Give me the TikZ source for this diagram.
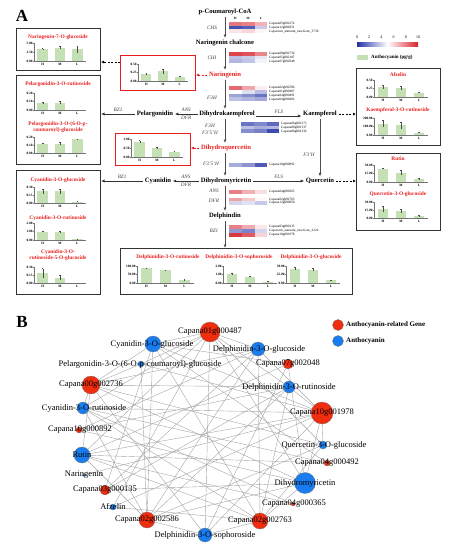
\documentclass[tikz,border=0pt]{standalone}
\usepackage{fontspec}
\setmainfont{Liberation Serif}
\usetikzlibrary{arrows.meta,backgrounds}
\definecolor{hb}{RGB}{35,50,165}
\definecolor{hr}{RGB}{215,35,45}
\definecolor{tred}{RGB}{232,30,30}
\definecolor{barg}{RGB}{197,224,180}
\definecolor{nred}{RGB}{240,45,15}
\definecolor{nblue}{RGB}{25,125,240}
\definecolor{edgec}{RGB}{165,165,165}
\tikzset{
  cmp/.style={font=\fontsize{6.6}{7}\selectfont\bfseries, inner sep=1.5pt},
  enz/.style={font=\fontsize{5.2}{6}\selectfont\itshape, text=black!75, inner sep=1pt},
  gene/.style={font=\fontsize{3.4}{4}\selectfont, anchor=west, inner sep=0pt},
  ttl/.style={font=\fontsize{5.4}{6}\selectfont\bfseries, text=tred, inner sep=0pt},
  tick/.style={font=\fontsize{3.4}{4}\selectfont\bfseries, inner sep=0.5pt},
  axc/.style={draw=black!55, line width=0.3pt},
  errc/.style={draw=black!70, line width=0.3pt},
  box/.style={draw=black!80, line width=0.8pt},
  rbox/.style={draw=tred, line width=0.8pt},
  arr/.style={-{Latex[length=3.5pt,width=3pt]}, line width=0.9pt, draw=black!70},
  harr/.style={-{Latex[length=3.5pt,width=3pt]}, line width=0.7pt, draw=black!80},
  darr/.style={-{Latex[length=3pt,width=3pt]}, dash pattern=on 2pt off 1.5pt, line width=0.7pt},
  gnode/.style={circle, draw=black!55, line width=0.3pt, fill=nred, inner sep=0pt},
  bnode/.style={circle, draw=black!55, line width=0.3pt, fill=nblue, inner sep=0pt},
  net/.style={font=\fontsize{8.5}{9}\selectfont, inner sep=0pt},
  edge/.style={draw=edgec, line width=0.4pt},
  leg/.style={font=\fontsize{7}{8}\selectfont\bfseries, anchor=west, inner sep=0pt}
}
\newcommand\hrow[7]{%
  \fill[#4] (#1,#2) rectangle ++(12.8,#3);
  \fill[#5] ({#1+12.8},#2) rectangle ++(12.8,#3);
  \fill[#6] ({#1+25.6},#2) rectangle ++(12.8,#3);
  \node[gene] at ({#1+40},{#2+#3/2}) {#7};}
\newcommand\bchart[7]{%
\begin{scope}[shift={(#1,#2)}]
  \foreach \v/\e [count=\i] in {#7}{%
    \pgfmathsetmacro\cx{(2*\i-1)*#3/6}%
    \pgfmathsetmacro\bw{0.3*#3/3}%
    \fill[barg] ({\cx-\bw},0) rectangle ({\cx+\bw},{-\v*#4});
    \draw[errc] (\cx,{-(\v-\e)*#4}) -- (\cx,{-(\v+\e)*#4});
    \draw[errc] ({\cx-0.8},{-(\v+\e)*#4}) -- ({\cx+0.8},{-(\v+\e)*#4});
  }
  \draw[axc] (0,{-#4}) -- (0,0) -- (#3,0);
  \foreach \t/\l in {0/0.00,0.5/#6,1/#5}{%
    \draw[axc] (-0.8,{-\t*#4}) -- (0,{-\t*#4});
    \node[tick,anchor=east] at (-0.8,{-\t*#4}) {\l};}
  \node[tick] at ({#3/6},3.5) {H};
  \node[tick] at ({#3/2},3.5) {M};
  \node[tick] at ({5*#3/6},3.5) {L};
\end{scope}}
\begin{document}
\begin{tikzpicture}[x=1pt,y=-1pt]
\useasboundingbox (0,0) rectangle (455,550);

% ---------------- Panel A ----------------
\node[font=\fontsize{17}{18}\selectfont\bfseries] (labA) at (22,16) {A};

\node[cmp] (pcc) at (225,12) {p-Coumaroyl-CoA};
\node[cmp] (nch) at (225,43) {Naringenin chalcone};
\node[cmp,text=tred] (nar) at (225,75) {Naringenin};
\node[cmp] (dhk) at (227,114) {Dihydrokaempferol};
\node[cmp,text=tred] (dhq) at (226,148) {Dihydroquercetin};
\node[cmp] (dhm) at (226,181) {Dihydromyricetin};
\node[cmp] (del) at (225,216) {Delphindin};
\node[cmp] (pel) at (155,114) {Pelargonidin};
\node[cmp] (cya) at (158,181) {Cyanidin};
\node[cmp] (kae) at (320,114) {Kaempferol};
\node[cmp] (que) at (320,181) {Quercetin};

\coordinate (c1) at (225,17);   \coordinate (c1b) at (225,38);
\coordinate (c2) at (225,48);   \coordinate (c2b) at (225,70);
\coordinate (c3) at (225,80);   \coordinate (c3b) at (225,109);
\coordinate (c4) at (225,119);  \coordinate (c4b) at (225,143);
\coordinate (c5) at (225,153);  \coordinate (c5b) at (225,176);
\coordinate (c6) at (225,186);  \coordinate (c6b) at (225,211);
\coordinate (c7) at (225,221);  \coordinate (bbtop) at (225,248);
\coordinate (pelbox) at (101,114);
\coordinate (cyabox) at (101,181);
\coordinate (afzbox) at (356,114);
\coordinate (rutbox) at (356,181);
\coordinate (narbox) at (196,75);
\coordinate (dhqbox) at (191,148);
\coordinate (nbL) at (120,62);
\coordinate (n7R) at (101,62);

\draw[arr] (c1) -- (c1b);
\draw[arr] (c2) -- (c2b);
\draw[arr] (c3) -- (c3b);
\draw[arr] (c4) -- (c4b);
\draw[arr] (c5) -- (c5b);
\draw[arr] (c6) -- (c6b);
\draw[arr] (c7) -- (bbtop);
\draw[arr] (kae) -- (que);

\draw[harr] (dhk) -- node[enz,above=1pt] (e1) {ANS} node[enz,below=1pt] (e2) {DFR} (pel);
\draw[harr] (pel) -- node[enz,above=1pt] (e3) {BZ1} (pelbox);
\draw[harr] (dhm) -- node[enz,above=1pt] (e4) {ANS} node[enz,below=1pt] (e5) {DFR} (cya);
\draw[harr] (cya) -- node[enz,above=1pt] (e6) {BZ1} (cyabox);
\draw[harr] (dhk.east) ++(0,2) coordinate (dk2) -- node[enz,above=1pt] (e7) {FLS} (kae.west |- dk2);
\draw[harr] (dhm) -- node[enz,above=1pt] (e8) {FLS} (que);
\draw[darr] (kae) -- (afzbox);
\draw[darr] (que) -- (rutbox);
\draw[darr,draw=tred] (nar) -- (narbox);
\draw[darr,draw=tred] (dhq) -- (dhqbox);
\draw[darr] (nbL) -- (n7R);

\node[enz] (z1) at (212,28) {CHS};
\node[enz] (z2) at (212,58) {CHI};
\node[enz] (z3) at (212,98) {F3H};
\node[enz] (z4) at (210,126) {F3H};
\node[enz] (z5) at (210,133) {F3'5'H};
\node[enz] (z6) at (211,164) {F3'5'H};
\node[enz] (z7) at (214,191) {ANS};
\node[enz] (z8) at (214,201) {DFR};
\node[enz] (z9) at (214,231) {BZ1};
\node[enz] (z10) at (309,155) {F3'H};

\node[tick,font=\fontsize{3.2}{4}\selectfont\bfseries] (hH) at (235.4,18.6) {H};
\node[tick,font=\fontsize{3.2}{4}\selectfont\bfseries] (hM) at (248.2,18.6) {M};
\node[tick,font=\fontsize{3.2}{4}\selectfont\bfseries] (hL) at (261,18.6) {L};
\hrow{229}{22}{3.7}{hr!62!white}{hr!58!white}{hr!35!white}{Capana05g002274}
\hrow{229}{25.7}{3.7}{hb!85!white}{hb!78!white}{hb!25!white}{Capana12g000351}
\hrow{229}{29.4}{3.7}{hr!12!white}{hr!18!white}{hr!4!white}{Capsicum\_annuum\_newGene\_3736}

\hrow{229}{52}{3.7}{hr!85!white}{hr!78!white}{hr!55!white}{Capana08g002736}
\hrow{229}{55.7}{3.7}{hb!30!white}{hb!25!white}{hb!12!white}{Capana05g002187}
\hrow{229}{59.4}{3.7}{hb!35!white}{hb!28!white}{hb!6!white}{Capana07g002048}

\hrow{229}{86}{3.8}{hr!68!white}{hr!40!white}{hr!8!white}{Capana02g002586}
\hrow{229}{89.8}{3.8}{white}{hb!15!white}{hb!32!white}{Capana01g000487}
\hrow{229}{93.6}{3.8}{hb!45!white}{hb!55!white}{hb!68!white}{Capana04g000491}
\hrow{229}{97.4}{3.8}{hb!30!white}{hb!36!white}{hb!42!white}{Capana04g000492}

\hrow{241}{122}{3.7}{hb!68!white}{hb!58!white}{hb!72!white}{Capana06g002173}
\hrow{241}{125.7}{3.7}{hb!30!white}{hb!40!white}{hb!35!white}{Capana08g001337}
\hrow{241}{129.4}{3.7}{hb!55!white}{hb!62!white}{hb!88!white}{Capana08g001336}

\hrow{229}{162.5}{4.5}{hb!40!white}{hb!52!white}{hb!80!white}{Capana10g000892}

\hrow{229}{189.5}{4.5}{hr!58!white}{hr!35!white}{hr!15!white}{Capana04g000365}

\hrow{229}{197.5}{3.8}{hr!42!white}{hr!25!white}{hr!3!white}{Capana02g002763}
\hrow{229}{201.3}{3.8}{hb!20!white}{hb!14!white}{hb!26!white}{Capana12g000050}

\hrow{229}{225}{4}{hr!58!white}{hr!38!white}{hr!10!white}{Capana03g000135}
\hrow{229}{229}{4}{hb!50!white}{hb!60!white}{hb!20!white}{Capsicum\_annuum\_newGene\_2224}
\hrow{229}{233}{4}{hr!90!white}{hr!75!white}{hr!20!white}{Capana10g001978}

\shade[left color=hb, right color=hr, middle color=white] (357,42) rectangle (418,46.5);
\foreach \k/\t in {0/0,1/2,2/4,3/6,4/8,5/10}
  \node[font=\fontsize{4}{5}\selectfont, inner sep=0pt] at ({357+\k*12.2},37.5) {\t};
\fill[barg] (357,54.5) rectangle (368,59.5);
\node[font=\fontsize{5}{6}\selectfont\bfseries, anchor=west, inner sep=0pt] (legA) at (371,57) {Anthocyanin (μg/g)};

\draw[box] (16,28) rectangle (100,70);
\draw[rbox] (120,55) rectangle (195,90);
\draw[box] (16,75) rectangle (100,164);
\draw[rbox] (115,133) rectangle (190,165);
\draw[box] (16,170) rectangle (100,294);
\draw[box] (356,68) rectangle (440,145);
\draw[box] (356,153) rectangle (440,230);
\draw[box] (120,248) rectangle (352,294);

\node[ttl] (t1) at (58,37) {Naringenin-7-O-glucoside};
\bchart{34}{61}{52}{18}{5.00}{2.50}{0.66/0.03,0.74/0.08,0.64/0.2}
\bchart{138}{81}{50}{17}{0.50}{0.25}{0.4/0.05,0.56/0.13,0.26/0.05}
\node[ttl] (t2) at (58,84) {Pelargonidin-3-O-rutinoside};
\bchart{34}{110}{52}{17}{0.20}{0.10}{0.4/0.06,0.42/0.09,0/0}
\node[ttl] (t3) at (58,124) {Pelargonidin-3-O-(6-O-p-};
\node[ttl] (t3b) at (58,130.5) {coumaroyl)-glucoside};
\bchart{34}{153}{52}{16}{0.20}{0.10}{0.58/0.04,0.58/0.1,0.86/0.03}
\bchart{131}{157}{52}{18}{1.00}{0.50}{0.85/0.06,0.5/0.05,0.3/0.04}
\node[ttl] (t4) at (58,180) {Cyanidin-3-O-glucoside};
\bchart{34}{203}{52}{16}{0.30}{0.15}{0.72/0.15,0.72/0.15,0.08/0.02}
\node[ttl] (t5) at (58,218) {Cyanidin-3-O-rutinoside};
\bchart{34}{240}{52}{17}{2.00}{1.00}{0.5/0.05,0.46/0.04,0.05/0.02}
\node[ttl] (t6) at (58,252) {Cyanidin-3-O-};
\node[ttl] (t6b) at (58,258.5) {rutinoside-5-O-glucoside};
\bchart{34}{283}{52}{16}{0.30}{0.15}{0.6/0.3,0.33/0.15,0/0}
\node[ttl] (t7) at (398,75) {Afzelin};
\bchart{374}{97}{54}{17}{0.50}{0.25}{0.6/0.12,0.54/0.1,0.25/0.04}
\node[ttl] (t8) at (398,110) {Kaempferol-3-O-rutinoside};
\bchart{374}{135}{54}{17}{200.00}{100.00}{0.66/0.2,0.56/0.2,0.14/0.04}
\node[ttl] (t9) at (398,159) {Rutin};
\bchart{374}{182}{54}{17}{30.00}{15.00}{0.77/0.03,0.55/0.15,0.17/0.05}
\node[ttl] (t10) at (398,194) {Quercetin-3-O-glucoside};
\bchart{374}{218}{54}{16}{30.00}{15.00}{0.57/0.2,0.45/0.12,0.13/0.04}
\node[ttl] (t11) at (168,257) {Delphinidin-3-O-rutinoside};
\bchart{137}{283}{57}{17}{100.00}{50.00}{0.86/0.03,0.74/0.03,0.18/0.05}
\node[ttl] (t12) at (239,257) {Delphinidin-3-O-sophoroside};
\bchart{223}{283}{54}{17}{2.00}{1.00}{0.53/0.03,0.38/0.03,0.08/0.02}
\node[ttl] (t13) at (311,257) {Delphinidin-3-O-glucoside};
\bchart{286}{283}{54}{17}{50.00}{25.00}{0.84/0.1,0.77/0.08,0.15/0.03}

% ---------------- Panel B ----------------
\node[font=\fontsize{17}{18}\selectfont\bfseries] (labB) at (22,322) {B};
\node[gnode, minimum size=11] (lg1) at (338,325) {};
\node[leg] (lg1t) at (346,325) {Anthocyanin-related Gene};
\node[bnode, minimum size=11] (lg2) at (338,341) {};
\node[leg] (lg2t) at (346,341) {Anthocyanin};

\node[gnode, minimum size=20] (g1) at (210,332) {};
\node[gnode, minimum size=10] (g2) at (288,364) {};
\node[gnode, minimum size=18] (g3) at (91,385) {};
\node[gnode, minimum size=22] (g4) at (322,413) {};
\node[gnode, minimum size=6] (g5) at (79,430) {};
\node[gnode, minimum size=6] (g6) at (327,463) {};
\node[gnode, minimum size=10] (g7) at (105,490) {};
\node[gnode, minimum size=4] (g8) at (293,504) {};
\node[gnode, minimum size=16] (g9) at (147,520) {};
\node[gnode, minimum size=16] (g10) at (260,521) {};
\node[bnode, minimum size=16] (m1) at (153,344) {};
\node[bnode, minimum size=14] (m2) at (258,349) {};
\node[bnode, minimum size=6] (m3) at (141,364) {};
\node[bnode, minimum size=12] (m4) at (289,387) {};
\node[bnode, minimum size=12] (m5) at (83,408) {};
\node[bnode, minimum size=16] (m6) at (82,455) {};
\node[bnode, minimum size=8] (m7) at (323,445) {};
\node[bnode, minimum size=3] (m8) at (84,475) {};
\node[bnode, minimum size=21] (m9) at (305,483) {};
\node[bnode, minimum size=6] (m10) at (113,507) {};
\node[bnode, minimum size=14] (m11) at (205,535) {};

\node[net] (g1l) at (210,332) {Capana01g000487};
\node[net] (g2l) at (288,364) {Capana07g002048};
\node[net] (g3l) at (91,385) {Capana00g002736};
\node[net] (g4l) at (322,413) {Capana10g001978};
\node[net] (g5l) at (80,430) {Capana10g000892};
\node[net] (g6l) at (327,463) {Capana04g000492};
\node[net] (g7l) at (105,490) {Capana03g000135};
\node[net] (g8l) at (294,504) {Capana04g000365};
\node[net] (g9l) at (147,520) {Capana02g002586};
\node[net] (g10l) at (260,521) {Capana02g002763};
\node[net] (m1l) at (152,344) {Cyanidin-3-O-glucoside};
\node[net] (m2l) at (259,349) {Delphinidin-3-O-glucoside};
\node[net] (m3l) at (140,364) {Pelargonidin-3-O-(6-O-p-coumaroyl)-glucoside};
\node[net] (m4l) at (289,387) {Delphinidin-3-O-rutinoside};
\node[net] (m5l) at (84,408) {Cyanidin-3-O-rutinoside};
\node[net] (m6l) at (82,455) {Rutin};
\node[net] (m7l) at (324,445) {Quercetin-3-O-glucoside};
\node[net] (m8l) at (84,475) {Naringenin};
\node[net] (m9l) at (305,483) {Dihydromyricetin};
\node[net] (m10l) at (113,507) {Afzelin};
\node[net] (m11l) at (205,535) {Delphinidin-3-O-sophoroside};

\begin{pgfonlayer}{background}
\foreach \a/\b in {g1/m1,g1/m2,g1/m3,g1/m4,g1/m5,g1/m6,g1/m7,g1/m9,g1/m10,g1/m11,
  g3/m1,g3/m2,g3/m3,g3/m4,g3/m5,g3/m6,g3/m7,g3/m9,g3/m11,
  g4/m1,g4/m2,g4/m3,g4/m4,g4/m5,g4/m6,g4/m7,g4/m8,g4/m9,g4/m10,g4/m11,
  g9/m1,g9/m2,g9/m3,g9/m4,g9/m5,g9/m6,g9/m7,g9/m9,g9/m11,
  g10/m1,g10/m2,g10/m4,g10/m5,g10/m6,g10/m7,g10/m9,g10/m10,g10/m11,
  g2/m1,g2/m6,g2/m9,g2/m11,g5/m2,g5/m9,g5/m4,g6/m6,g6/m5,g6/m1,
  g7/m4,g7/m9,g7/m2,g7/m1,g8/m6,g8/m5}
  \draw[edge] (\a) -- (\b);
\end{pgfonlayer}
\end{tikzpicture}
\end{document}
